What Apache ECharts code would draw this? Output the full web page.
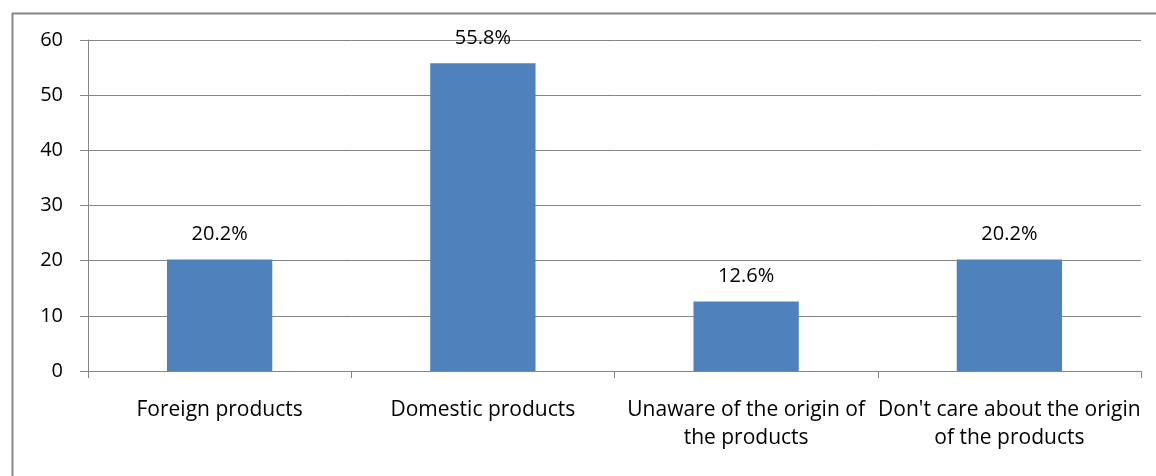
<!DOCTYPE html>
<html>
<head>
<meta charset="utf-8">
<script src="https://cdn.jsdelivr.net/npm/echarts@6/dist/echarts.min.js"></script>
<style>
  html, body { margin: 0; padding: 0; background: #fff; }
  #chart { width: 1156px; height: 476px; }
</style>
</head>
<body>
<div id="chart"></div>
<script>
// Purchase preference by product origin (share of respondents, %)
const categories = [
  'Foreign products',
  'Domestic products',
  'Unaware of the origin of\nthe products',
  "Don't care about the origin\nof the products"
];
const shares = [20.2, 55.8, 12.6, 20.2];
const yTicks = [0, 10, 20, 30, 40, 50, 60];

const gray = '#868686';
const font = '"Open Sans", "Noto Sans", sans-serif';

const chart = echarts.init(document.getElementById('chart'), null, { renderer: 'canvas' });
chart.setOption({
  animation: false,
  backgroundColor: '#fff',
  graphic: [{
    type: 'rect',
    left: 10, top: 11,
    shape: { width: 1200, height: 520 },
    style: { fill: 'none', stroke: gray, lineWidth: 2 },
    silent: true
  }],
  grid: { left: 88, right: 15, top: 40, bottom: 105, containLabel: false },
  xAxis: {
    type: 'category',
    data: categories,
    boundaryGap: true,
    axisLine: { show: true, lineStyle: { color: gray, width: 1 } },
    axisTick: { show: true, length: 7, alignWithLabel: false, lineStyle: { color: gray } },
    axisLabel: {
      interval: 0,
      margin: 25,
      color: '#000',
      fontFamily: font,
      fontSize: 21,
      lineHeight: 28
    }
  },
  yAxis: {
    type: 'value',
    min: yTicks[0],
    max: yTicks[yTicks.length - 1],
    interval: 10,
    axisLine: { show: true, lineStyle: { color: gray, width: 1 } },
    axisTick: { show: true, length: 8, lineStyle: { color: gray } },
    splitLine: { show: true, lineStyle: { color: gray, width: 1 } },
    axisLabel: {
      margin: 25,
      color: '#000',
      fontFamily: font,
      fontSize: 20
    }
  },
  series: [{
    type: 'bar',
    data: shares,
    barCategoryGap: '60%',
    itemStyle: { color: '#4F81BD' },
    label: {
      show: true,
      position: 'top',
      distance: 15,
      color: '#000',
      fontFamily: font,
      fontSize: 20,
      formatter: p => p.value.toFixed(1) + '%'
    }
  }]
});
</script>
</body>
</html>
